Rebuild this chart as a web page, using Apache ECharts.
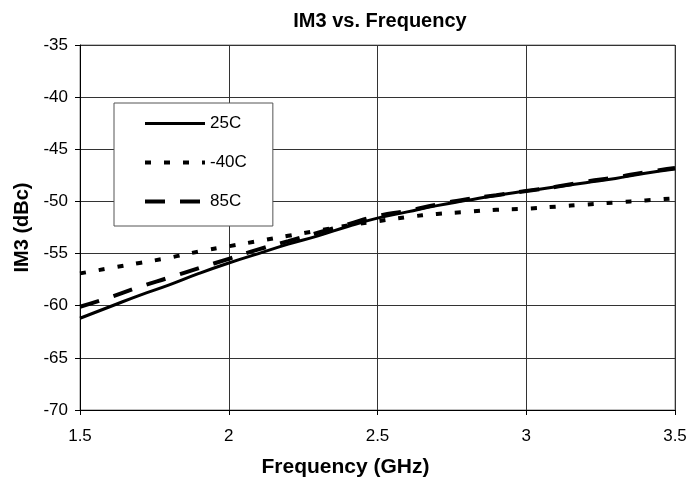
<!DOCTYPE html>
<html>
<head>
<meta charset="utf-8">
<script src="https://cdn.jsdelivr.net/npm/echarts@6/dist/echarts.min.js"></script>
<style>html,body{margin:0;padding:0;background:#fff}#c{width:690px;height:493px}</style>
</head>
<body>
<div id="c"></div>
<script>
const freq = [1.5,1.6,1.7,1.8,1.9,2.0,2.1,2.2,2.3,2.4,2.5,2.6,2.7,2.8,2.9,3.0,3.1,3.2,3.3,3.4,3.5];
const im3_25C = [-61.2,-60.1,-59.0,-58.0,-56.9,-55.9,-55.0,-54.1,-53.3,-52.4,-51.6,-51.0,-50.4,-49.9,-49.4,-49.0,-48.6,-48.2,-47.8,-47.3,-46.9];
const im3_m40C = [-56.9,-56.4,-55.9,-55.4,-54.8,-54.3,-53.8,-53.3,-52.8,-52.3,-51.9,-51.5,-51.2,-51.0,-50.8,-50.7,-50.5,-50.3,-50.1,-49.9,-49.7];
const im3_85C = [-60.1,-59.2,-58.2,-57.3,-56.4,-55.5,-54.6,-53.8,-53.0,-52.2,-51.4,-50.9,-50.3,-49.8,-49.4,-49.0,-48.6,-48.1,-47.7,-47.2,-46.8];
const seriesNames = ['25C','-40C','85C'];

const pairs = ys => freq.map((f,i)=>[f, ys[i]]);
const FONT = 'Liberation Sans, Arial, sans-serif';
const styles = [
  {width:3, type:'solid'},
  {width:4, type:[6,13]},
  {width:4, type:[20,15]}
];

const chart = echarts.init(document.getElementById('c'), null, {renderer:'canvas'});
chart.setOption({
  animation:false,
  backgroundColor:'#fff',
  title:{
    text:'IM3 vs. Frequency',
    left:375, top:6, textAlign:'center',
    textStyle:{fontFamily:FONT,fontSize:20,fontWeight:'bold',color:'#000'}
  },
  grid:{left:80,right:15,top:45,bottom:83,show:true,borderColor:'#808080',borderWidth:1,containLabel:false},
  legend:{
    orient:'vertical',left:114,top:103,
    backgroundColor:'#fff',borderColor:'#555',borderWidth:1,
    padding:[12,26,16,29],
    itemWidth:60,itemHeight:14,itemGap:22,
    itemStyle:{color:'rgba(0,0,0,0)',borderWidth:0,opacity:0},
    textStyle:{fontFamily:FONT,fontSize:17,color:'#000'},
    data:seriesNames.map((n,i)=>({name:n,lineStyle:{color:'#000',width:styles[i].width,type:styles[i].type}}))
  },
  xAxis:{
    type:'value',min:1.5,max:3.5,interval:0.5,
    name:'Frequency (GHz)',nameLocation:'middle',nameGap:47,
    nameTextStyle:{fontFamily:FONT,fontSize:21,fontWeight:'bold',color:'#000',padding:[0,64,0,0]},
    axisLine:{show:true,lineStyle:{color:'#000',width:1}},
    axisTick:{show:true,inside:false,length:5,lineStyle:{color:'#000'}},
    axisLabel:{fontFamily:FONT,fontSize:17,color:'#000',margin:18},
    splitLine:{show:true,lineStyle:{color:'#333',width:1}}
  },
  yAxis:{
    type:'value',min:-70,max:-35,interval:5,
    name:'IM3 (dBc)',nameLocation:'middle',nameGap:48,
    nameTextStyle:{fontFamily:FONT,fontSize:20,fontWeight:'bold',color:'#000'},
    axisLine:{show:true,lineStyle:{color:'#000',width:1}},
    axisTick:{show:true,inside:false,length:5,lineStyle:{color:'#000'}},
    axisLabel:{fontFamily:FONT,fontSize:17,color:'#000',margin:12},
    splitLine:{show:true,lineStyle:{color:'#333',width:1}}
  },
  series:[
    {name:seriesNames[0],type:'line',data:pairs(im3_25C),symbol:'none',smooth:true,
     lineStyle:{color:'#000',width:styles[0].width,type:styles[0].type},itemStyle:{color:'#000'},z:4},
    {name:seriesNames[1],type:'line',data:pairs(im3_m40C),symbol:'none',smooth:true,
     lineStyle:{color:'#000',width:styles[1].width,type:styles[1].type},itemStyle:{color:'#000'},z:3},
    {name:seriesNames[2],type:'line',data:pairs(im3_85C),symbol:'none',smooth:true,
     lineStyle:{color:'#000',width:styles[2].width,type:styles[2].type},itemStyle:{color:'#000'},z:5}
  ]
});
</script>
</body>
</html>
